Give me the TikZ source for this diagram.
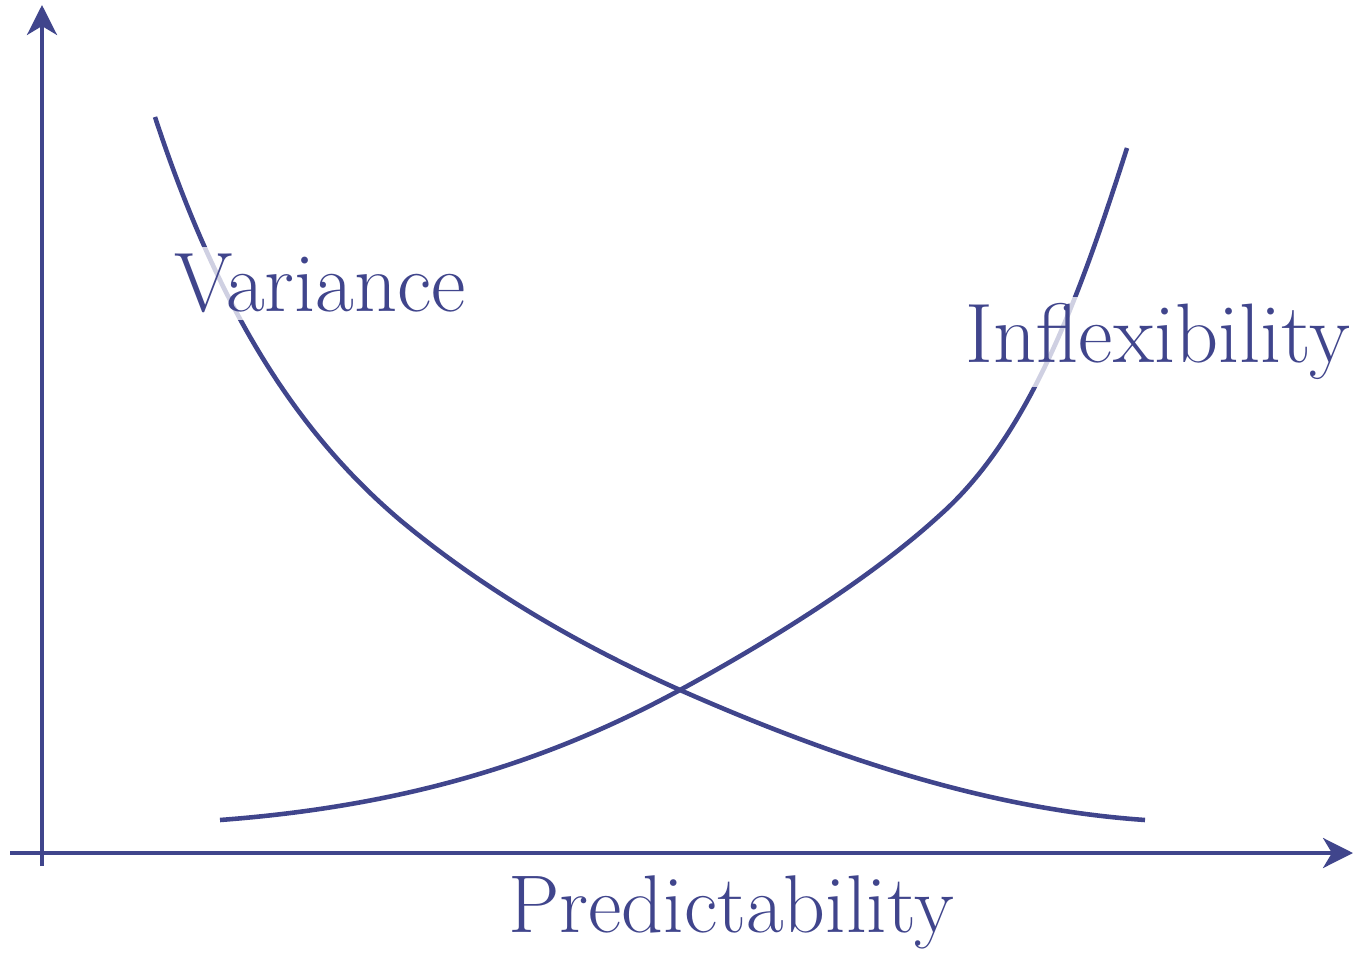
\documentclass[tikz,border=0pt]{standalone}
\usetikzlibrary{arrows.meta}
\definecolor{axblue}{HTML}{40458C}

\begin{document}
\begin{tikzpicture}[
    axis/.style={axblue, line width=1.25pt, -{Stealth[length=8.5pt, width=8.5pt, inset=2.5pt]}},
    curve/.style={axblue, line width=1.3pt},
    lbl/.style={text=axblue, font=\fontsize{24}{28}\selectfont, fill=white,
                fill opacity=0.75, text opacity=1, inner sep=2pt, anchor=base}
  ]

  % ---- Frame ----
  \useasboundingbox (0,0) rectangle (13.57,9.55);

  % ---- Axes ----
  \coordinate (xs) at (0.10,1.02);
  \coordinate (xe) at (13.53,1.02);
  \coordinate (ys) at (0.42,0.89);
  \coordinate (ye) at (0.42,9.50);
  \draw[axis] (xs) -- (xe);
  \draw[axis] (ys) -- (ye);

  % ---- Variance curve ----
  \draw[curve] (1.55,8.38) .. controls (2.2,6.4) and (3.0,5.2) .. (4.0,4.35)
    .. controls (4.9,3.6) and (5.9,3.05) .. (6.8,2.65)
    .. controls (8.5,1.9) and (10.0,1.45) .. (11.45,1.35);

  % ---- Inflexibility curve ----
  \draw[curve] (2.20,1.35) .. controls (4.2,1.5) and (5.6,2.0) .. (6.8,2.65)
    .. controls (7.9,3.25) and (8.8,3.85) .. (9.4,4.4)
    .. controls (10.3,5.2) and (10.8,6.6) .. (11.27,8.07);

  % ---- Labels ----
  \node[lbl] (var) at (3.20,6.43) {Variance};
  \node[lbl] (infl) at (11.58,5.92) {Inflexibility};
  \node[lbl, font=\fontsize{23.3}{28}\selectfont] (pred) at (7.31,0.23) {Predictability};

\end{tikzpicture}
\end{document}
